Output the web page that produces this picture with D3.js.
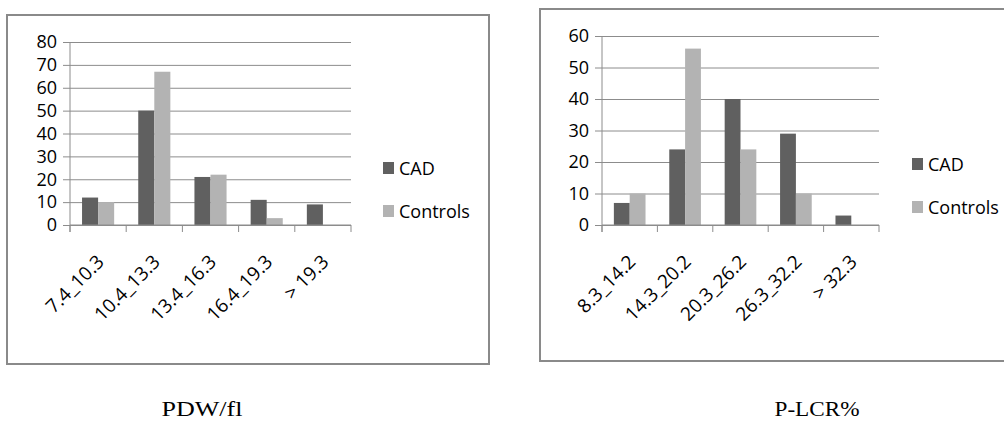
<!DOCTYPE html>
<html>
<head>
  <script src="https://d3js.org/d3.v7.min.js"></script>
  <style>
    body { margin: 0; background: #fff; }
    svg text { font-family: "Open Sans", sans-serif; fill: #000; }
    .caption { font-family: "Liberation Serif", "Times New Roman", serif; font-size: 21px; }
  </style>
</head>
<body>
  <svg id="chart" width="1004" height="423"></svg>
  <script>
    var series = ['CAD', 'Controls'];
    var colors = ['#606060', '#b3b3b3'];

    var pdwCats = ['7.4_10.3', '10.4_13.3', '13.4_16.3', '16.4_19.3', '> 19.3'];
    var pdwCAD = [12, 50, 21, 11, 9];
    var pdwControls = [10, 67, 22, 3, 0];
    var pdwTicks = [0, 10, 20, 30, 40, 50, 60, 70, 80];

    var plcrCats = ['8.3_14.2', '14.3_20.2', '20.3_26.2', '26.3_32.2', '> 32.3'];
    var plcrCAD = [7, 24, 40, 29, 3];
    var plcrControls = [10, 56, 24, 10, 0];
    var plcrTicks = [0, 10, 20, 30, 40, 50, 60];

    var svg = d3.select('#chart');

    function drawChart(opt) {
      var g = svg.append('g');

      // outer frame
      g.append('rect')
        .attr('x', opt.frame[0]).attr('y', opt.frame[1])
        .attr('width', opt.frame[2]).attr('height', opt.frame[3])
        .attr('fill', 'none').attr('stroke', '#8a8a8a').attr('stroke-width', 2);

      var x = d3.scaleBand().domain(opt.cats).range([opt.left, opt.right]);
      var xs = d3.scaleBand().domain(series).range([0, x.bandwidth()]).paddingOuter(0.75);
      var y = d3.scaleLinear().domain([0, d3.max(opt.ticks)]).range([opt.bottom, opt.top]);

      // gridlines + y ticks
      var yAxis = d3.axisLeft(y).tickValues(opt.ticks)
        .tickSize(-(opt.right - opt.left)).tickSizeOuter(0).tickPadding(13);
      var ya = g.append('g').attr('transform', 'translate(' + opt.left + ',0)').call(yAxis);
      ya.select('.domain').remove();
      ya.selectAll('.tick line').attr('stroke', '#8c8c8c').attr('x1', -7);
      ya.selectAll('.tick text').attr('font-size', 18).attr('font-family', null);

      // y axis line
      g.append('line')
        .attr('x1', opt.left).attr('x2', opt.left)
        .attr('y1', opt.top).attr('y2', opt.bottom + 7)
        .attr('stroke', '#8c8c8c');

      // category boundary ticks
      var bounds = opt.cats.map(function (c) { return x(c); }).concat([opt.right]);
      g.selectAll('.ctick').data(bounds).enter().append('line')
        .attr('x1', function (d) { return d; }).attr('x2', function (d) { return d; })
        .attr('y1', opt.bottom).attr('y2', opt.bottom + 7)
        .attr('stroke', '#8c8c8c');

      // bars
      var rows = opt.cats.map(function (c, i) {
        return { cat: c, vals: [opt.cad[i], opt.controls[i]] };
      });
      var grp = g.selectAll('.grp').data(rows).enter().append('g')
        .attr('transform', function (d) { return 'translate(' + x(d.cat) + ',0)'; });
      grp.selectAll('rect')
        .data(function (d) { return d.vals.map(function (v, j) { return { s: series[j], v: v, j: j }; }); })
        .enter().append('rect')
        .attr('x', function (d) { return xs(d.s); })
        .attr('width', xs.bandwidth())
        .attr('y', function (d) { return y(d.v); })
        .attr('height', function (d) { return y(0) - y(d.v); })
        .attr('fill', function (d) { return colors[d.j]; });

      // x axis line (over bars)
      g.append('line')
        .attr('x1', opt.left).attr('x2', opt.right)
        .attr('y1', opt.bottom).attr('y2', opt.bottom)
        .attr('stroke', '#8c8c8c');

      // rotated category labels
      g.selectAll('.xl').data(opt.cats).enter().append('text')
        .attr('transform', function (d) {
          return 'translate(' + (x(d) + x.bandwidth() / 2 + 7) + ',' + (opt.bottom + 38) + ') rotate(-45)';
        })
        .attr('text-anchor', 'end')
        .attr('font-size', 19)
        .text(function (d) { return d; });

      // legend
      var lg = g.selectAll('.lg').data(series).enter().append('g')
        .attr('transform', function (d, i) { return 'translate(' + opt.legend[0] + ',' + (opt.legend[1] + i * 43) + ')'; });
      lg.append('rect').attr('width', 11).attr('height', 12)
        .attr('fill', function (d, i) { return colors[i]; });
      lg.append('text').attr('x', 16).attr('y', 13)
        .attr('font-size', 18)
        .text(function (d) { return d; });

      // caption
      svg.append('text').attr('class', 'caption')
        .attr('x', opt.caption[0]).attr('y', opt.caption[1])
        .attr('text-anchor', 'middle')
        .attr('textLength', opt.caption[2]).attr('lengthAdjust', 'spacingAndGlyphs')
        .text(opt.title);
    }

    drawChart({
      cats: pdwCats, cad: pdwCAD, controls: pdwControls, ticks: pdwTicks,
      frame: [7, 15, 482, 349],
      left: 70, right: 351, top: 42, bottom: 225,
      legend: [383, 162], caption: [202, 416, 81], title: 'PDW/fl'
    });

    drawChart({
      cats: plcrCats, cad: plcrCAD, controls: plcrControls, ticks: plcrTicks,
      frame: [540, 9, 480, 352],
      left: 602, right: 879, top: 36, bottom: 225,
      legend: [912, 158], caption: [817, 416, 85], title: 'P-LCR%'
    });
  </script>
</body>
</html>
